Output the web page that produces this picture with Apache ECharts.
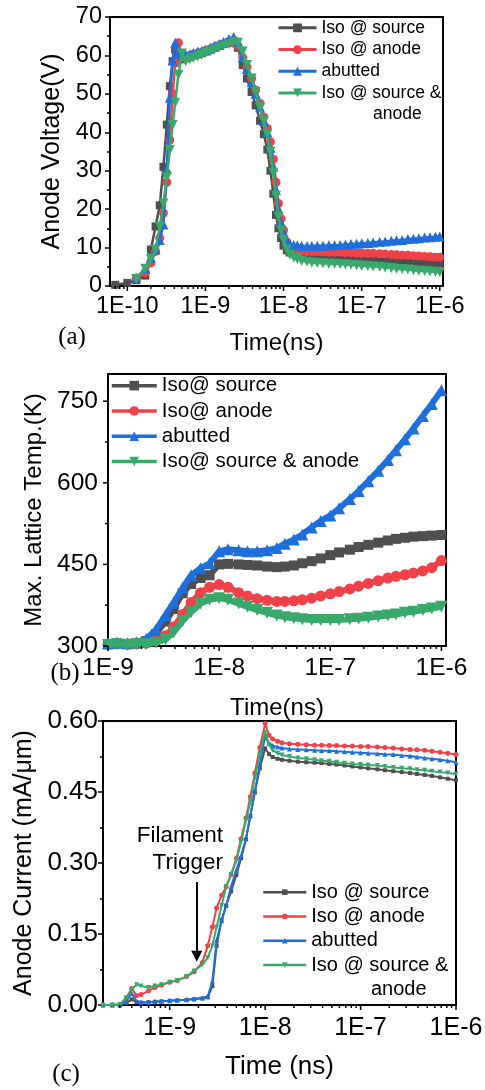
<!DOCTYPE html>
<html>
<head>
<meta charset="utf-8">
<script src="https://cdn.jsdelivr.net/npm/echarts@6/dist/echarts.min.js"></script>
<style>
  html, body { margin: 0; padding: 0; background: #fff; }
  #chart { width: 485px; height: 1090px; }
</style>
</head>
<body>
<div id="chart"></div>
<script>
// ---------- (a) anode voltage transient ----------
const voltTime = [7e-11, 1e-10, 1.3e-10, 1.7e-10, 2.0e-10, 2.3e-10, 2.6e-10, 2.9e-10, 3.2e-10, 3.5e-10, 3.8e-10, 4.1e-10, 4.5e-10,
  5e-10, 5.6e-10, 6.3e-10, 7e-10, 8e-10, 9e-10,
  1e-9, 1.15e-9, 1.3e-9, 1.5e-9, 1.7e-9, 2e-9, 2.3e-9, 2.6e-9, 3e-9, 3.4e-9, 3.9e-9, 4.4e-9, 5e-9, 5.6e-9, 6.2e-9, 6.8e-9, 7.4e-9, 8e-9, 8.6e-9, 9.3e-9,
  1e-8, 1.1e-8, 1.2e-8, 1.35e-8, 1.5e-8, 1.7e-8, 2e-8, 2.3e-8, 2.7e-8, 3.2e-8, 3.8e-8, 4.5e-8, 5.3e-8, 6.2e-8, 7.3e-8, 8.6e-8,
  1e-7, 1.2e-7, 1.4e-7, 1.7e-7, 2e-7, 2.4e-7, 2.8e-7, 3.3e-7, 3.9e-7, 4.6e-7, 5.4e-7, 6.4e-7, 7.5e-7, 8.8e-7, 1e-6];
const voltIsoSource = [0.3, 0.8, 1.5, 2.7, 9.5, 15.5, 21, 31, 42, 52, 58.5, 61.5, 59,
  59, 59.3, 59.6, 60, 60.3, 60.6,
  61, 61.5, 62, 62.5, 63, 63.5, 63.8, 62, 57.5, 54, 50.5, 47, 43, 39.5, 35.5, 30, 24, 18.5, 15, 12.5,
  10.5, 9.3, 8.7, 8.4, 8.2, 8.0, 7.9, 7.8, 7.7, 7.7, 7.6, 7.6, 7.5, 7.4, 7.3, 7.3,
  7.2, 7.1, 7.0, 6.9, 6.8, 6.7, 6.6, 6.5, 6.4, 6.3, 6.2, 6.1, 6.0, 5.9, 5.8];
const voltIsoAnode = [null, null, 2.0, 3.5, 6, 9, 12.5, 19, 27, 38, 50, 58, 63.3,
  59.5, 59.8, 60, 60.3, 60.6, 60.8,
  61.2, 61.6, 62, 62.5, 63, 63.3, 63.2, 62.5, 59.5, 57, 54, 51, 47.5, 44, 41, 37.5, 33, 27, 21.5, 17.5,
  14.5, 11.5, 10, 9.4, 9.2, 9.1, 9.0, 9.0, 8.9, 8.9, 8.8, 8.8, 8.8, 8.7, 8.7, 8.6,
  8.6, 8.5, 8.5, 8.4, 8.3, 8.2, 8.1, 8.0, 8.0, 7.9, 7.8, 7.7, 7.6, 7.5, 7.5];
const voltAbutted = [null, null, 2.2, 4.5, 7.3, 9.5, 12, 16, 30.5, 49, 58.7, 63.3, 60.5,
  60, 60.2, 60.3, 60.6, 61, 61.2,
  61.5, 62, 62.5, 63, 63.5, 64.3, 64.8, 63.5, 59.5, 56.5, 53, 50, 46.5, 43, 40, 36, 31, 25, 20, 16.5,
  14, 12, 11, 10.7, 10.6, 10.5, 10.4, 10.4, 10.5, 10.5, 10.6, 10.6, 10.7, 10.8, 10.9, 11.0,
  11.1, 11.2, 11.3, 11.5, 11.6, 11.8, 11.9, 12.0, 12.2, 12.3, 12.4, 12.6, 12.7, 12.8, 12.9];
const voltIsoBoth = [null, null, 1.8, 4.5, 7, 9.5, 15.5, 21.5, 28.3, 35.4, 41.9, 47.7, 55,
  60.5, 58.5, 59, 59.3, 59.8, 60.2,
  60.6, 61, 61.5, 62, 62.5, 63, 63.5, 63.3, 61, 57.5, 54, 50.5, 46.5, 43, 39.5, 35, 29.5, 23.5, 18, 14.5,
  12, 9.5, 8.2, 7.4, 7.0, 6.6, 6.3, 6.1, 6.0, 5.9, 5.8, 5.8, 5.7, 5.6, 5.5, 5.4,
  5.3, 5.2, 5.1, 5.0, 4.8, 4.7, 4.5, 4.4, 4.3, 4.1, 4.0, 3.9, 3.8, 3.7, 3.6];
const voltTicks = [0, 10, 20, 30, 40, 50, 60, 70];

// ---------- (b) maximum lattice temperature ----------
const tempTime = [1e-9, 1.2e-9, 1.5e-9, 1.8e-9, 2.2e-9, 2.7e-9, 3.3e-9, 3.9e-9, 4.7e-9, 5.6e-9, 6.8e-9, 8.2e-9,
  1e-8, 1.2e-8, 1.5e-8, 1.8e-8, 2.2e-8, 2.7e-8, 3.3e-8, 3.9e-8, 4.7e-8, 5.6e-8, 6.8e-8, 8.2e-8,
  1e-7, 1.2e-7, 1.5e-7, 1.8e-7, 2.2e-7, 2.7e-7, 3.3e-7, 3.9e-7, 4.7e-7, 5.6e-7, 6.8e-7, 8.2e-7, 1e-6];
const tempIsoSource = [303, 305, 304, 305, 309, 322, 345, 368, 397, 414, 425, 430,
  450, 451, 450, 449, 448, 446, 445, 446, 448, 452, 456, 461,
  467, 472, 477, 482, 486, 490, 494, 497, 499, 501, 502, 503, 504];
const tempIsoAnode = [303, 304, 303, 304, 305, 310, 319, 335, 358, 380, 398, 408,
  413, 408, 398, 392, 387, 384, 382, 382, 383, 385, 388, 392,
  396, 400, 405, 410, 415, 420, 425, 428, 431, 434, 438, 444, 457];
const tempAbutted = [305, 306, 305, 307, 313, 330, 357, 380, 407, 430, 443, 452,
  474, 478, 476, 474, 474, 476, 480, 488, 496, 505, 518, 530,
  540, 553, 570, 585, 603, 622, 642, 660, 680, 700, 723, 745, 770];
const tempIsoBoth = [302, 303, 302, 303, 303, 306, 312, 325, 346, 362, 378, 385,
  388, 385, 378, 372, 366, 361, 356, 353, 351, 349, 348, 348,
  348, 348, 349, 350, 352, 354, 356, 358, 361, 363, 366, 369, 372];
const tempTicks = [300, 450, 600, 750];
const tempMinorTicks = [375, 525, 675];

// ---------- (c) anode current ----------
const currentTime = [2e-10, 2.5e-10, 3e-10, 3.5e-10, 4e-10, 4.5e-10, 5e-10, 6e-10, 7e-10, 8.2e-10,
  1e-9, 1.2e-9, 1.5e-9, 1.8e-9, 2.2e-9, 2.5e-9, 2.8e-9, 3.1e-9, 3.5e-9, 3.9e-9, 4.4e-9, 5e-9, 5.6e-9, 6.3e-9, 7e-9, 7.8e-9, 8.8e-9,
  1e-8, 1.1e-8, 1.2e-8, 1.35e-8, 1.5e-8, 1.8e-8, 2.2e-8, 2.7e-8, 3.3e-8, 3.9e-8, 4.7e-8, 5.6e-8, 6.8e-8, 8.2e-8,
  1e-7, 1.2e-7, 1.5e-7, 1.8e-7, 2.2e-7, 2.7e-7, 3.3e-7, 3.9e-7, 4.7e-7, 5.6e-7, 6.8e-7, 8.2e-7, 1e-6];
const currentIsoSource = [0, 0, 0, 0.004, 0.012, 0.006, 0.005, 0.006, 0.007, 0.008,
  0.009, 0.01, 0.011, 0.012, 0.014, 0.016, 0.04, 0.125, 0.18, 0.21, 0.24, 0.275, 0.31, 0.35, 0.4, 0.45, 0.5,
  0.542, 0.53, 0.524, 0.52, 0.518, 0.516, 0.514, 0.513, 0.512, 0.511, 0.509, 0.508, 0.506, 0.504,
  0.502, 0.5, 0.498, 0.496, 0.494, 0.492, 0.49, 0.488, 0.486, 0.484, 0.481, 0.478, 0.475];
const currentIsoAnode = [0, 0, 0.001, 0.015, 0.035, 0.02, 0.022, 0.03, 0.037, 0.042,
  0.048, 0.052, 0.06, 0.07, 0.09, 0.125, 0.165, 0.205, 0.232, 0.25, 0.275, 0.31, 0.351, 0.395, 0.44, 0.49, 0.544,
  0.595, 0.57, 0.562, 0.557, 0.554, 0.552, 0.551, 0.55, 0.549, 0.549, 0.548, 0.548, 0.547, 0.547,
  0.546, 0.546, 0.545, 0.544, 0.543, 0.541, 0.54, 0.539, 0.538, 0.536, 0.534, 0.532, 0.529];
const currentAbutted = [0, 0, 0, 0.008, 0.025, 0.008, 0.006, 0.006, 0.007, 0.008,
  0.009, 0.01, 0.011, 0.013, 0.015, 0.018, 0.05, 0.137, 0.178, 0.21, 0.25, 0.285, 0.315, 0.352, 0.4, 0.45, 0.51,
  0.567, 0.553, 0.548, 0.545, 0.543, 0.541, 0.54, 0.539, 0.538, 0.537, 0.537, 0.536, 0.535, 0.534,
  0.533, 0.532, 0.531, 0.53, 0.529, 0.527, 0.526, 0.524, 0.522, 0.52, 0.518, 0.516, 0.513];
const currentIsoBoth = [0, 0, 0.001, 0.015, 0.033, 0.043, 0.04, 0.037, 0.04, 0.043,
  0.048, 0.052, 0.06, 0.072, 0.085, 0.1, 0.125, 0.165, 0.21, 0.25, 0.276, 0.305, 0.345, 0.39, 0.43, 0.48, 0.53,
  0.577, 0.55, 0.538, 0.532, 0.528, 0.525, 0.522, 0.52, 0.518, 0.516, 0.515, 0.513, 0.511, 0.509,
  0.508, 0.507, 0.506, 0.504, 0.502, 0.5, 0.499, 0.497, 0.496, 0.494, 0.492, 0.49, 0.488];
const currentTicks = [0, 0.15, 0.30, 0.45, 0.60];
const triggerArrow = { time: 1.92e-9, from: 0.26, to: 0.103 };

// shared log-axis tick labels
const decadeValues = [1e-10, 1e-9, 1e-8, 1e-7, 1e-6];
const decadeLabels = ['1E-10', '1E-9', '1E-8', '1E-7', '1E-6'];

const namesA = ['Iso @ source', 'Iso @ anode', 'abutted', 'Iso @ source & anode'];
const namesB = ['Iso@ source', 'Iso@ anode', 'abutted', 'Iso@ source & anode'];

const COLORS = ['#4f4f4f', '#ef4147', '#1e6fdc', '#39a96b'];
const SYMBOLS = ['rect', 'circle', 'triangle', 'path://M0,0L10,0L5,9Z'];
const FONT = 'Liberation Sans';
const SERIF = 'Liberation Serif';

function decadeLabel(v) {
  const lv = Math.log10(v);
  for (let i = 0; i < decadeValues.length; i++) {
    if (Math.abs(Math.log10(decadeValues[i]) - lv) < 1e-6) return decadeLabels[i];
  }
  return '';
}

function lineSeries(name, idx, times, values, k, size, width, extra) {
  return Object.assign({
    type: 'line', name: name, xAxisIndex: idx, yAxisIndex: idx,
    data: times.map((t, i) => [t, values[i]]),
    symbol: SYMBOLS[k], symbolSize: size, showSymbol: true,
    color: COLORS[k],
    itemStyle: { color: COLORS[k], borderWidth: 0 },
    lineStyle: { color: COLORS[k], width: width },
    silent: true, animation: false, z: 3 + k
  }, extra || {});
}

// tick marks along log axes (decades long, 2..9 short) drawn through the axis scale
function logTickList(min, max) {
  const out = [];
  for (let e = Math.floor(Math.log10(min)); e <= Math.ceil(Math.log10(max)); e++) {
    for (let m = 1; m <= 9; m++) {
      const v = m * Math.pow(10, e);
      if (m === 1 && v >= min * 0.999 && v <= max * 1.001) out.push([v, 0]);
      else if (m > 1 && v > min * 1.001 && v < max * 0.999) out.push([v, 1]);
    }
  }
  return out;
}

function tickSeries(idx, xMin, xMax, yMin, yMajor, yMinor) {
  const data = logTickList(xMin, xMax).map(d => [d[0], yMin, d[1]]);
  (yMajor || []).forEach(v => data.push([xMin, v, 2]));
  (yMinor || []).forEach(v => data.push([xMin, v, 3]));
  return {
    type: 'custom', xAxisIndex: idx, yAxisIndex: idx, clip: false, silent: true, animation: false, z: 10,
    data: data,
    renderItem: function (params, api) {
      const p = api.coord([api.value(0), api.value(1)]);
      const kind = api.value(2);
      const len = (kind % 2 === 0) ? 5 : 3;
      const shape = kind < 2
        ? { x1: p[0], y1: p[1], x2: p[0], y2: p[1] + len }
        : { x1: p[0], y1: p[1], x2: p[0] - len, y2: p[1] };
      return { type: 'line', shape: shape, style: { stroke: '#000', lineWidth: 1.5 } };
    }
  };
}

function logXAxis(idx, min, max, name, nameGap, nameSize, labelSize, labelMargin) {
  return {
    type: 'log', logBase: 10, gridIndex: idx, min: min, max: max,
    name: name, nameLocation: 'middle', nameGap: nameGap,
    nameTextStyle: { fontFamily: FONT, fontSize: nameSize, color: '#000' },
    axisLine: { show: true, onZero: false, lineStyle: { color: '#000', width: 2 } },
    axisTick: { show: false }, minorTick: { show: false },
    splitLine: { show: false }, minorSplitLine: { show: false },
    axisLabel: { show: true, margin: labelMargin, fontFamily: FONT, fontSize: labelSize, color: '#000',
      formatter: decadeLabel, showMinLabel: true, showMaxLabel: true }
  };
}

function valueYAxis(idx, ticks, max, name, nameGap, nameSize, labelSize, labelMargin, fmt, builtinTicks) {
  return {
    type: 'value', gridIndex: idx, min: ticks[0], max: max, interval: ticks[1] - ticks[0],
    name: name, nameLocation: 'middle', nameGap: nameGap,
    nameTextStyle: { fontFamily: FONT, fontSize: nameSize, color: '#000' },
    axisLine: { show: true, onZero: false, lineStyle: { color: '#000', width: 2 } },
    axisTick: { show: builtinTicks, inside: false, length: 5, lineStyle: { color: '#000', width: 1.5 } },
    minorTick: { show: builtinTicks, splitNumber: 2, length: 3, lineStyle: { color: '#000', width: 1.5 } },
    splitLine: { show: false }, minorSplitLine: { show: false },
    axisLabel: { show: true, margin: labelMargin, fontFamily: FONT, fontSize: labelSize, color: '#000', formatter: fmt }
  };
}

const gridBase = { show: true, borderColor: '#000', borderWidth: 2, containLabel: false, outerBoundsMode: 'none' };

const legendBase = { orient: 'vertical', padding: 0, itemGap: 0, selectedMode: false };

const option = {
  animation: false,
  backgroundColor: '#fff',
  textStyle: { fontFamily: FONT },
  grid: [
    Object.assign({ left: 110, top: 17, width: 333, height: 269 }, gridBase),
    Object.assign({ left: 108, top: 374, width: 338, height: 272 }, gridBase),
    Object.assign({ left: 103, top: 721, width: 353, height: 284 }, gridBase)
  ],
  xAxis: [
    logXAxis(0, 6e-11, 1.1e-6, 'Time(ns)', 45, 24, 23.5, 9),
    logXAxis(1, 1e-9, 1.1e-6, 'Time(ns)', 50, 24, 24.5, 10),
    logXAxis(2, 2e-10, 1e-6, 'Time (ns)', 49, 26, 25, 11)
  ],
  yAxis: [
    valueYAxis(0, voltTicks, voltTicks[voltTicks.length - 1], 'Anode Voltage(V)', 40, 25, 23.5, 8,
      v => String(Math.round(v)), true),
    valueYAxis(1, tempTicks, 800, 'Max. Lattice Temp.(K)', 57, 24, 24.5, 10,
      v => (tempTicks.indexOf(Math.round(v)) >= 0 ? String(Math.round(v)) : ''), false),
    valueYAxis(2, currentTicks, currentTicks[currentTicks.length - 1], 'Anode Current (mA/\u03bcm)', 66, 25, 26, 5,
      v => v.toFixed(2), true)
  ],
  legend: [
    Object.assign({}, legendBase, {
      left: 277, top: 17, itemWidth: 38, itemHeight: 11,
      data: namesA,
      formatter: n => (n === namesA[3] ? 'Iso @ source &' : n),
      lineStyle: { width: 3 },
      textStyle: { fontFamily: FONT, fontSize: 17.5, color: '#000', lineHeight: 21.7 }
    }),
    Object.assign({}, legendBase, {
      left: 110, top: 373, itemWidth: 45, itemHeight: 12,
      data: namesB,
      lineStyle: { width: 3.5 },
      textStyle: { fontFamily: FONT, fontSize: 20.5, color: '#000', lineHeight: 25.3 }
    }),
    Object.assign({}, legendBase, {
      left: 262, top: 880, itemWidth: 43, itemHeight: 7,
      data: namesA,
      formatter: n => (n === namesA[3] ? 'Iso @ source &' : n),
      lineStyle: { width: 2.5 },
      textStyle: { fontFamily: FONT, fontSize: 20, color: '#000', lineHeight: 24.3 }
    })
  ],
  graphic: [
    { type: 'text', x: 373, y: 114.6, silent: true,
      style: { text: 'anode', fontFamily: FONT, fontSize: 17.5, fill: '#000', verticalAlign: 'middle' } },
    { type: 'text', x: 371, y: 989.5, silent: true,
      style: { text: 'anode', fontFamily: FONT, fontSize: 20, fill: '#000', verticalAlign: 'middle' } },
    { type: 'text', x: 223, y: 836, silent: true,
      style: { text: 'Filament', fontFamily: FONT, fontSize: 22.5, fill: '#000', align: 'right', verticalAlign: 'middle' } },
    { type: 'text', x: 223, y: 863, silent: true,
      style: { text: 'Trigger', fontFamily: FONT, fontSize: 22.5, fill: '#000', align: 'right', verticalAlign: 'middle' } },
    { type: 'text', x: 72, y: 337, silent: true,
      style: { text: '(a)', fontFamily: SERIF, fontSize: 25, fill: '#000', align: 'center', verticalAlign: 'middle' } },
    { type: 'text', x: 65, y: 673, silent: true,
      style: { text: '(b)', fontFamily: SERIF, fontSize: 25, fill: '#000', align: 'center', verticalAlign: 'middle' } },
    { type: 'text', x: 66, y: 1074, silent: true,
      style: { text: '(c)', fontFamily: SERIF, fontSize: 25, fill: '#000', align: 'center', verticalAlign: 'middle' } }
  ],
  series: [
    // (a)
    lineSeries(namesA[0], 0, voltTime, voltIsoSource, 0, 8, 2.5),
    lineSeries(namesA[1], 0, voltTime, voltIsoAnode, 1, 9, 2.5),
    lineSeries(namesA[2], 0, voltTime, voltAbutted, 2, 10, 2.5),
    lineSeries(namesA[3], 0, voltTime, voltIsoBoth, 3, 10, 2.5),
    tickSeries(0, 6e-11, 1.1e-6, 0),
    // (b)
    lineSeries(namesB[0], 1, tempTime, tempIsoSource, 0, 10, 6),
    lineSeries(namesB[1], 1, tempTime, tempIsoAnode, 1, 11, 6),
    lineSeries(namesB[2], 1, tempTime, tempAbutted, 2, 12, 6),
    lineSeries(namesB[3], 1, tempTime, tempIsoBoth, 3, 12, 6),
    tickSeries(1, 1e-9, 1.1e-6, 300, tempTicks, tempMinorTicks),
    // (c)
    lineSeries(namesA[0], 2, currentTime, currentIsoSource, 0, 4, 2, {
      markLine: {
        silent: true, animation: false, symbol: ['none', 'triangle'], symbolSize: 11,
        label: { show: false },
        lineStyle: { color: '#000', width: 2, type: 'solid' },
        data: [[{ coord: [triggerArrow.time, triggerArrow.from] }, { coord: [triggerArrow.time, triggerArrow.to] }]]
      }
    }),
    lineSeries(namesA[1], 2, currentTime, currentIsoAnode, 1, 5, 2),
    lineSeries(namesA[2], 2, currentTime, currentAbutted, 2, 5, 2),
    lineSeries(namesA[3], 2, currentTime, currentIsoBoth, 3, 5, 2),
    tickSeries(2, 2e-10, 1e-6, 0)
  ]
};

const chart = echarts.init(document.getElementById('chart'), null, { renderer: 'canvas', width: 485, height: 1090 });
chart.setOption(option);
</script>
</body>
</html>
